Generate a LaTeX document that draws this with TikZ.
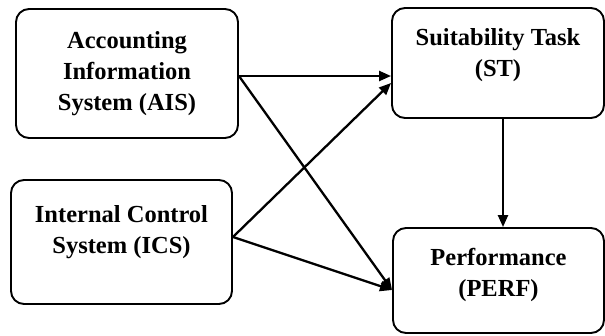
\documentclass[tikz,border=0pt]{standalone}
\usepackage{fontspec}
\setmainfont{Liberation Serif}
\usetikzlibrary{arrows.meta,calc}
\begin{document}
\begin{tikzpicture}[x=1pt,y=-1pt,
  box/.style={draw,line width=1.9pt,rounded corners=13pt,inner sep=0pt},
  lbl/.style={align=center,font=\fontsize{24.5}{31}\selectfont\bfseries},
  conn/.style={line width=2.3pt,-{Triangle[length=12pt,width=10pt]}}]
\useasboundingbox (0,0) rectangle (605,335);
\node[box,minimum width=222pt,minimum height=129pt] (ais) at (127,73.5) {};
\node[box,minimum width=212pt,minimum height=110pt] (st) at (498,63) {};
\node[box,minimum width=221pt,minimum height=124pt] (ics) at (121.5,242) {};
\node[box,minimum width=211pt,minimum height=105pt] (perf) at (498.5,280.5) {};
\node[lbl] (aist) at ($(ais.center)+(0,0)$) {Accounting\\Information\\System (AIS)};
\node[lbl] (stt) at ($(st.center)+(0,-8)$) {Suitability Task\\(ST)};
\node[lbl] (icst) at ($(ics.center)+(0,-9.5)$) {Internal Control\\System (ICS)};
\node[lbl] (perft) at ($(perf.center)+(0,-5.5)$) {Performance\\(PERF)};
\coordinate (aisout) at ($(ais.east)+(0,2.5)$);
\coordinate (icsout) at ($(ics.east)+(0,-5)$);
\coordinate (stin1) at ($(st.west)+(0,13)$);
\coordinate (stin2) at ($(st.west)+(0,20)$);
\coordinate (perfin) at ($(perf.west)+(0,9.5)$);
\draw[conn] (aisout) -- (stin1);
\draw[conn] (aisout) -- (perfin);
\draw[conn] (icsout) -- (stin2);
\draw[conn] (icsout) -- (perfin);
\draw[conn] ($(st.south)+(5,0)$) -- ($(perf.north)+(4.5,0)$);
\end{tikzpicture}
\end{document}
